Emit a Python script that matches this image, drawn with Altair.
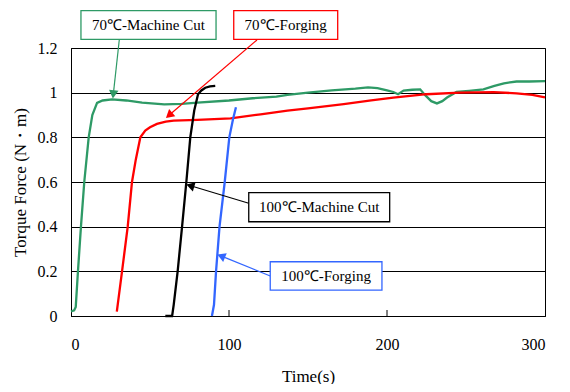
import math
import altair as alt
import pandas as pd

# ---- data ----
green_t = [0, 2, 3, 4.4, 6.3, 8.4, 11.2, 13.5, 16.5, 20, 26, 35, 45, 59, 70, 80, 100, 115,
           130, 137, 150, 165, 180, 188, 194, 200, 204, 207, 210.5, 216, 221, 224, 228,
           231.6, 235, 238, 244, 252, 261, 268, 274, 282, 290, 300]
green_v = [0.02, 0.025, 0.04, 0.2, 0.4, 0.6, 0.8, 0.9, 0.954, 0.965, 0.97, 0.965, 0.955,
           0.948, 0.95, 0.955, 0.965, 0.975, 0.982, 0.99, 1.0, 1.01, 1.018, 1.024, 1.02,
           1.01, 1.003, 0.993, 1.009, 1.013, 1.015, 0.99, 0.962, 0.952, 0.962, 0.978, 1.003,
           1.008, 1.015, 1.03, 1.042, 1.05, 1.05, 1.052]
red_t = [29, 32.3, 35.9, 38.6, 41, 43.9, 47, 50, 54.4, 60, 65, 80, 101, 120, 137, 150,
         172.6, 190, 204, 225, 246, 267.5, 282, 292, 300]
red_v = [0.02, 0.2, 0.4, 0.6, 0.7, 0.8, 0.83, 0.845, 0.86, 0.87, 0.875, 0.878, 0.885,
         0.903, 0.92, 0.93, 0.949, 0.965, 0.978, 0.993, 1.0, 1.002, 0.997, 0.99, 0.979]
black_t = [59.7, 64, 65, 67.5, 70.3, 73, 75.5, 78, 80.4, 82.5, 85, 88, 91.3]
black_v = [0.0, 0.0, 0.05, 0.2, 0.4, 0.6, 0.8, 0.92, 0.993, 1.01, 1.022, 1.028, 1.03]
blue_t = [89.2, 90.5, 91.8, 94, 97.3, 100.2, 102.5, 104.4]
blue_v = [0.0, 0.05, 0.2, 0.4, 0.6, 0.8, 0.88, 0.935]

series_names = ["70℃-Machine Cut", "70℃-Forging", "100℃-Machine Cut", "100℃-Forging"]
series_colors = ["#2e9a66", "#ff0000", "#000000", "#3366ff"]

x_ticks = [0, 100, 200, 300]
y_ticks = [0, 0.2, 0.4, 0.6, 0.8, 1.0, 1.2]

# annotation boxes (data units): x0, x1, y0, y1, arrow start, arrow tip
box_x0 = [6.3, 103.0, 112.5, 126.1]
box_x1 = [91.8, 168.8, 201.7, 196.8]
box_y0 = [1.239, 1.239, 0.422, 0.116]
box_y1 = [1.367, 1.367, 0.552, 0.243]
arrow_t0 = [30.6, 117.7, 112.5, 126.1]
arrow_v0 = [1.239, 1.236, 0.505, 0.179]
arrow_t1 = [26.6, 60.8, 73.9, 93.5]
arrow_v1 = [0.981, 0.891, 0.587, 0.273]

SERIF = "Times New Roman, Liberation Serif, serif"

W, H = 474, 268
XMAX, YMAX = 300, 1.2
pxt, pxv = W / XMAX, H / YMAX

rows = []
for name, ts, vs in zip(series_names, [green_t, red_t, black_t, blue_t],
                        [green_v, red_v, black_v, blue_v]):
    for t, v in zip(ts, vs):
        rows.append({"series": name, "t": t, "v": v})
lines_df = pd.DataFrame(rows)

ann_rows = []
for i, name in enumerate(series_names):
    dx = (arrow_t1[i] - arrow_t0[i]) * pxt
    dy = -(arrow_v1[i] - arrow_v0[i]) * pxv
    ln = math.hypot(dx, dy)
    ux, uy = dx / ln, dy / ln
    ang = math.degrees(math.atan2(dx, -dy)) % 360
    ann_rows.append({
        "label": name, "color": series_colors[i],
        "x0": box_x0[i], "x1": box_x1[i], "y0": box_y0[i], "y1": box_y1[i],
        "tx": (box_x0[i] + box_x1[i]) / 2, "ty": (box_y0[i] + box_y1[i]) / 2,
        "a0": arrow_t0[i], "b0": arrow_v0[i],
        "a1": arrow_t1[i] - 3 * ux / pxt, "b1": arrow_v1[i] + 3 * uy / pxv,
        "hx": arrow_t1[i] - 4 * ux / pxt, "hy": arrow_v1[i] + 4 * uy / pxv,
        "angle": ang,
    })
ann_df = pd.DataFrame(ann_rows)

xs = alt.Scale(domain=[0, XMAX], nice=False)
ys = alt.Scale(domain=[0, YMAX], nice=False)

lines = alt.Chart(lines_df).mark_line(strokeWidth=2.3).encode(
    x=alt.X("t:Q", scale=xs, title="Time(s)",
            axis=alt.Axis(values=x_ticks, grid=False, ticks=False, labelPadding=20,
                          titlePadding=16, domainColor="black")),
    y=alt.Y("v:Q", scale=ys, title="Torque Force (N・m)",
            axis=alt.Axis(values=y_ticks, format="~g", grid=True, gridColor="black",
                          gridOpacity=1, ticks=False, labelPadding=14, titlePadding=8,
                          domainColor="black")),
    color=alt.Color("series:N", scale=alt.Scale(domain=series_names, range=series_colors),
                    legend=None),
    detail="series:N",
)

tick_df = pd.DataFrame({"t": x_ticks[1:3]})
ticks = alt.Chart(tick_df).mark_rule(color="black", strokeWidth=1).encode(
    x=alt.X("t:Q", scale=xs), y=alt.value(H), y2=alt.value(H - 6))

arrows = alt.Chart(ann_df).mark_rule(strokeWidth=1.2).encode(
    x=alt.X("a0:Q", scale=xs), y=alt.Y("b0:Q", scale=ys),
    x2="a1:Q", y2="b1:Q", color=alt.Color("color:N", scale=None))

heads = alt.Chart(ann_df).mark_point(shape="triangle", filled=True, size=90, opacity=1).encode(
    x=alt.X("hx:Q", scale=xs), y=alt.Y("hy:Q", scale=ys),
    angle=alt.Angle("angle:Q", scale=None), color=alt.Color("color:N", scale=None))

boxes = alt.Chart(ann_df).mark_rect(fill="white", strokeWidth=1.3).encode(
    x=alt.X("x0:Q", scale=xs), x2="x1:Q",
    y=alt.Y("y0:Q", scale=ys), y2="y1:Q",
    stroke=alt.Stroke("color:N", scale=None))

texts = alt.Chart(ann_df).mark_text(font=SERIF, fontSize=15, color="black",
                                    baseline="middle", align="center").encode(
    x=alt.X("tx:Q", scale=xs), y=alt.Y("ty:Q", scale=ys), text="label:N")

chart = alt.layer(lines, ticks, arrows, heads, boxes, texts).properties(
    width=W, height=H,
    autosize=alt.AutoSizeParams(type="none"),
    padding={"left": 63, "top": 40, "right": 17, "bottom": 68},
).configure(font=SERIF).configure_view(
    stroke="black", strokeWidth=1
).configure_axis(
    labelFont=SERIF, labelFontSize=16, labelColor="black",
    titleFont=SERIF, titleFontSize=17, titleFontWeight="normal",
    titleColor="black", domainWidth=1,
)

chart.save("out.html", embed_options={"renderer": "svg", "actions": False})
